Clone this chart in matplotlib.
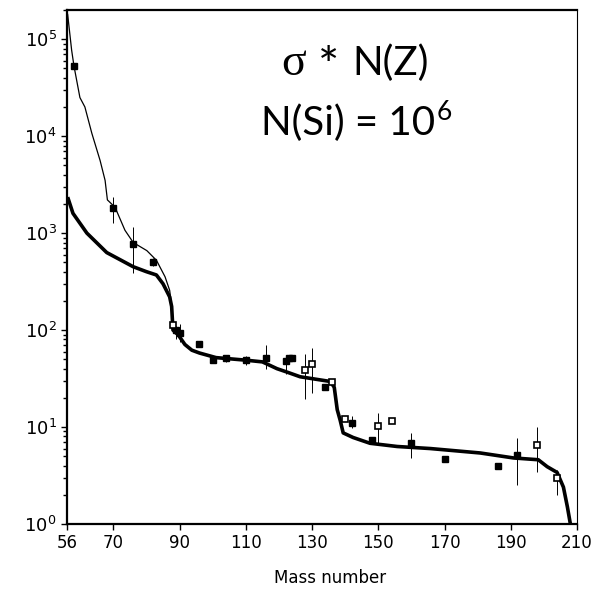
import numpy as np
import matplotlib
matplotlib.use("Agg")
import matplotlib.pyplot as plt
from matplotlib.ticker import LogLocator, FixedLocator

# thin curve (steep rise towards A=56), merges with the thick one near A=88
thin_a = [56.2, 57.4, 58.1, 59.9, 61.4, 63.5, 66.0, 67.5, 68.2, 70.5, 73.5,
          76.0, 80.1, 83.0, 85.6, 87.0, 87.6, 88.0]
thin_y = [1.8e5, 7.7e4, 5.3e4, 2.5e4, 2.0e4, 1.07e4, 5.6e3, 3.5e3, 2.2e3,
          1.85e3, 1.07e3, 800, 660, 525, 355, 257, 180, 105]

# thick curve (model)
thick_a = [56.2, 57.8, 62.0, 68.0, 76.0, 80.0, 83.0, 85.0, 87.0, 87.6, 88.0,
           89.6, 91.6, 93.7, 96.0, 101.0, 109.8, 115.0, 119.4, 122.3, 126.4,
           135.5, 136.7, 137.6, 138.5, 139.4, 142.4, 147.5, 155.7, 165.7,
           180.8, 190.8, 198.3, 201.0, 204.0, 205.9, 207.1, 208.0, 208.5]
thick_y = [2.35e3, 1.6e3, 1.0e3, 630, 450, 400, 370, 300, 220, 175, 100,
           89, 71, 62, 58, 52, 49, 47, 40, 37, 33,
           29.5, 25.7, 15.1, 11.7, 8.7, 7.8, 6.8, 6.3, 6.0,
           5.4, 4.8, 4.6, 3.9, 3.4, 2.4, 1.5, 1.0, 0.8]

# measured points: filled squares
fill_a = [58, 70, 76, 82, 89, 90, 96, 100, 104, 110, 116, 122, 123, 124, 134,
          142, 148, 160, 170, 186, 192]
fill_y = [5.3e4, 1.8e3, 770, 500, 100, 93, 72, 49, 51, 49, 52, 48, 52, 51, 26,
          11, 7.4, 6.8, 4.7, 4.0, 5.1]
fill_lo = [5.3e4, 1.26e3, 390, 460, 80, 75, 72, 49, 47, 44, 40, 35, 52, 51,
           24, 9.8, 7.4, 4.8, 4.7, 4.0, 2.5]
fill_hi = [5.3e4, 2.35e3, 1.15e3, 550, 110, 115, 72, 49, 55, 54, 70, 48, 52,
           51, 28, 13, 7.4, 8.7, 4.7, 4.0, 7.8]

# measured points: open squares
open_a = [88, 128, 130, 136, 140, 150, 154, 198, 204]
open_y = [112, 39, 45, 29, 12, 10.2, 11.5, 6.5, 3.0]
open_lo = [112, 19.5, 22.4, 29, 12, 6.8, 11.5, 3.4, 2.0]
open_hi = [112, 56, 65, 29, 12, 13.8, 11.5, 10.0, 3.6]

xticks = [56, 70, 90, 110, 130, 150, 170, 190, 210]

W, H = 598, 590
fig = plt.figure(figsize=(W / 100, H / 100), dpi=100)
ax = fig.add_axes([67 / W, 1 - 524 / H, 510 / W, 514 / H])

ax.plot(thin_a, thin_y, color="black", lw=0.9)
ax.plot(thick_a, thick_y, color="black", lw=2.6, solid_capstyle="butt")

fy = np.array(fill_y)
ax.errorbar(fill_a, fill_y,
            yerr=[fy - np.array(fill_lo), np.array(fill_hi) - fy],
            fmt="s", color="black", ms=5, elinewidth=0.7, capsize=0)
oy = np.array(open_y)
ax.errorbar(open_a, open_y,
            yerr=[oy - np.array(open_lo), np.array(open_hi) - oy],
            fmt="s", color="black", mfc="white", mew=1.2, ms=5,
            elinewidth=0.7, capsize=0)

ax.set_yscale("log")
ax.set_xlim(56, 210)
ax.set_ylim(1, 2.0e5)
ax.xaxis.set_major_locator(FixedLocator(xticks))
ax.yaxis.set_major_locator(LogLocator(base=10, numticks=10))
ax.yaxis.set_minor_locator(LogLocator(base=10, subs=np.arange(2, 10), numticks=10))
ax.tick_params(axis="both", which="major", direction="out", length=4,
               width=1, labelsize=12, colors="black")
ax.tick_params(axis="y", which="major", labelsize=13)
ax.tick_params(axis="y", which="minor", direction="out", length=3, width=1)
ax.tick_params(axis="x", which="minor", bottom=False)

for side in ["top", "left", "bottom"]:
    ax.spines[side].set_linewidth(1.6)
ax.spines["right"].set_linewidth(0.8)

fig.text(330 / W, 1 - 578 / H, "Mass number", ha="center", va="center",
         fontsize=12)

# annotation in the upper right
fig.text(281 / W, 1 - 75 / H, "σ", family="Liberation Serif",
         fontsize=33, ha="left", va="baseline")
fig.text(318 / W, 1 - 83 / H, "*", family="Lato",
         fontsize=36, ha="left", va="baseline")
fig.text(352 / W, 1 - 75 / H, "N(Z)", family="Lato",
         fontsize=29, ha="left", va="baseline")
t = fig.text(261 / W, 1 - 135 / H, "N(Si) = 10", family="Lato",
             fontsize=29, ha="left", va="baseline")
ax.annotate("6", xy=(1, 1), xycoords=t, xytext=(1, 3),
            textcoords="offset points", family="Lato", fontsize=19,
            ha="left", va="top")

fig.savefig("out.png", dpi=100)
